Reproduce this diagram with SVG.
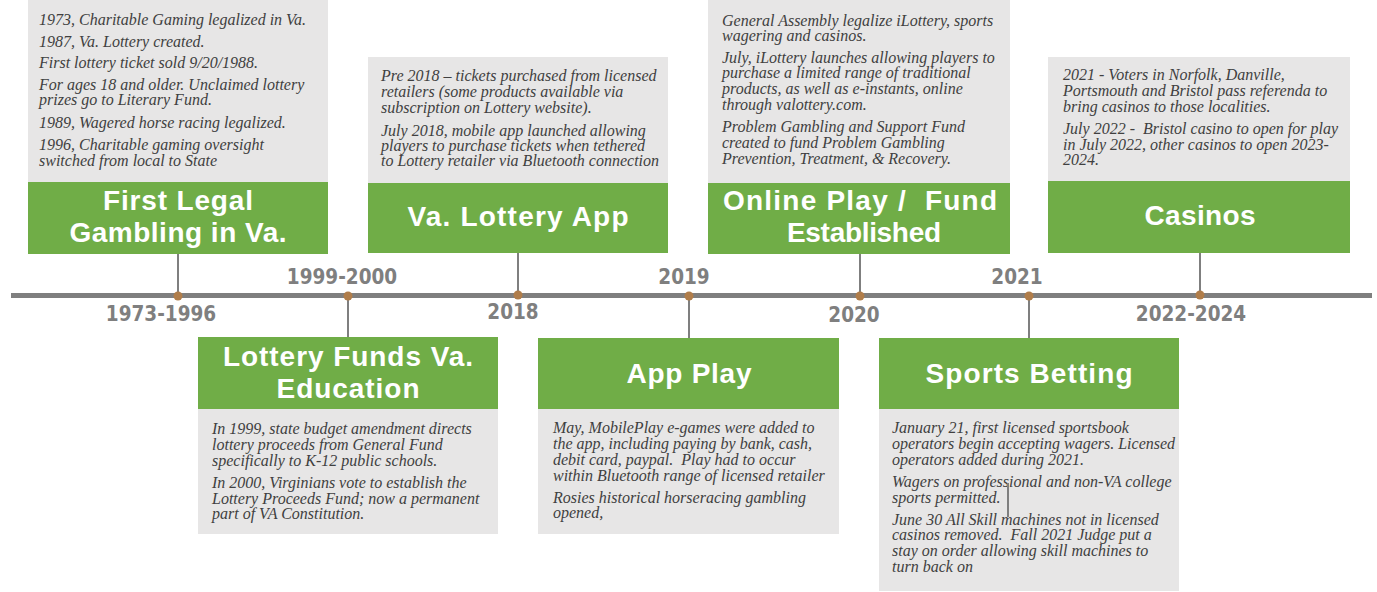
<svg xmlns="http://www.w3.org/2000/svg" width="1377" height="592" viewBox="0 0 1377 592">
<style>
.bg{fill:#e7e6e6}
.gr{fill:#70ad47}
.t{font-family:'Liberation Sans',Arial,sans-serif;font-weight:bold;font-size:28px;fill:#ffffff;text-anchor:middle}
.b{font-family:'Liberation Serif',serif;font-style:italic;font-size:16px;fill:#404040}
.y{font-family:'DejaVu Sans Condensed','DejaVu Sans',sans-serif;font-weight:bold;font-size:20.5px;fill:#7f7f7f;text-anchor:middle}
.c{stroke:#7f7f7f;stroke-width:2;fill:none}
.d{fill:#b07d4a}
</style>
<rect width="1377" height="592" fill="#ffffff"/>
<g id="axis">
<line x1="11" y1="295.5" x2="1372" y2="295.5" stroke="#7f7f7f" stroke-width="5"/>
</g>
<g id="connectors">
<line class="c" x1="178" y1="254" x2="178" y2="295"/>
<line class="c" x1="348" y1="295" x2="348" y2="337"/>
<line class="c" x1="518" y1="253" x2="518" y2="295"/>
<line class="c" x1="689" y1="295" x2="689" y2="338"/>
<line class="c" x1="860" y1="254" x2="860" y2="295"/>
<line class="c" x1="1029" y1="295" x2="1029" y2="338"/>
<line class="c" x1="1200" y1="253" x2="1200" y2="295"/>
<circle class="d" cx="178" cy="296" r="4.5"/>
<circle class="d" cx="348" cy="296" r="4.5"/>
<circle class="d" cx="518" cy="295" r="4.5"/>
<circle class="d" cx="689" cy="296" r="4.5"/>
<circle class="d" cx="860" cy="296" r="4.5"/>
<circle class="d" cx="1029" cy="296" r="4.5"/>
<circle class="d" cx="1200" cy="295" r="4.5"/>
</g>
<g id="labels">
<text class="y" x="161" y="321">1973-1996</text>
<text class="y" x="342" y="284">1999-2000</text>
<text class="y" x="513" y="319">2018</text>
<text class="y" x="684" y="284">2019</text>
<text class="y" x="854" y="322">2020</text>
<text class="y" x="1017" y="284">2021</text>
<text class="y" x="1191" y="321">2022-2024</text>
</g>
<g id="node1">
<rect class="bg" x="28" y="0" width="300" height="182"/>
<rect class="gr" x="28" y="182" width="300" height="72"/>
<text class="b"><tspan x="39" y="25">1973, Charitable Gaming legalized in Va.</tspan><tspan x="39" y="47">1987, Va. Lottery created.</tspan><tspan x="39" y="68">First lottery ticket sold 9/20/1988.</tspan><tspan x="39" y="90">For ages 18 and older. Unclaimed lottery</tspan><tspan x="39" y="105">prizes go to Literary Fund.</tspan><tspan x="39" y="128">1989, Wagered horse racing legalized.</tspan><tspan x="39" y="150">1996, Charitable gaming oversight</tspan><tspan x="39" y="166">switched from local to State</tspan></text>
<text class="t" x="178" y="210" textLength="150" lengthAdjust="spacing">First Legal</text>
<text class="t" x="178" y="242" textLength="217" lengthAdjust="spacing">Gambling in Va.</text>
</g>
<g id="node2">
<rect class="bg" x="198" y="409" width="300" height="125"/>
<rect class="gr" x="198" y="337" width="300" height="72"/>
<text class="t" x="348" y="366" textLength="250" lengthAdjust="spacing">Lottery Funds Va.</text>
<text class="t" x="348" y="398" textLength="143" lengthAdjust="spacing">Education</text>
<text class="b"><tspan x="212" y="434">In 1999, state budget amendment directs</tspan><tspan x="212" y="450">lottery proceeds from General Fund</tspan><tspan x="212" y="466">specifically to K-12 public schools.</tspan><tspan x="212" y="488">In 2000, Virginians vote to establish the</tspan><tspan x="212" y="504">Lottery Proceeds Fund; now a permanent</tspan><tspan x="212" y="519">part of VA Constitution.</tspan></text>
</g>
<g id="node3">
<rect class="bg" x="368" y="57" width="300" height="126"/>
<rect class="gr" x="368" y="183" width="300" height="70"/>
<text class="b"><tspan x="381" y="81">Pre 2018 – tickets purchased from licensed</tspan><tspan x="381" y="97">retailers (some products available via</tspan><tspan x="381" y="113">subscription on Lottery website).</tspan><tspan x="381" y="136">July 2018, mobile app launched allowing</tspan><tspan x="381" y="151">players to purchase tickets when tethered</tspan><tspan x="381" y="166">to Lottery retailer via Bluetooth connection</tspan></text>
<text class="t" x="518" y="226" textLength="221" lengthAdjust="spacing">Va. Lottery App</text>
</g>
<g id="node4">
<rect class="bg" x="538" y="409" width="301" height="125"/>
<rect class="gr" x="538" y="338" width="301" height="71"/>
<text class="t" x="689" y="383" textLength="125" lengthAdjust="spacing">App Play</text>
<text class="b"><tspan x="553" y="433">May, MobilePlay e-games were added to</tspan><tspan x="553" y="449">the app, including paying by bank, cash,</tspan><tspan x="553" y="465" xml:space="preserve">debit card, paypal.  Play had to occur</tspan><tspan x="553" y="481">within Bluetooth range of licensed retailer</tspan><tspan x="553" y="503">Rosies historical horseracing gambling</tspan><tspan x="553" y="518">opened,</tspan></text>
</g>
<g id="node5">
<rect class="bg" x="708" y="0" width="302" height="183"/>
<rect class="gr" x="708" y="183" width="302" height="71"/>
<text class="b"><tspan x="722" y="26">General Assembly legalize iLottery, sports</tspan><tspan x="722" y="41">wagering and casinos.</tspan><tspan x="722" y="63">July, iLottery launches allowing players to</tspan><tspan x="722" y="78">purchase a limited range of traditional</tspan><tspan x="722" y="94">products, as well as e-instants, online</tspan><tspan x="722" y="110">through valottery.com.</tspan><tspan x="722" y="132">Problem Gambling and Support Fund</tspan><tspan x="722" y="148">created to fund Problem Gambling</tspan><tspan x="722" y="164">Prevention, Treatment, &amp; Recovery.</tspan></text>
<text class="t" x="860" y="210" textLength="274" lengthAdjust="spacing" xml:space="preserve">Online Play /  Fund</text>
<text class="t" x="864" y="242" textLength="154" lengthAdjust="spacing">Established</text>
</g>
<g id="node6">
<rect class="bg" x="879" y="409" width="300" height="182"/>
<rect class="gr" x="879" y="338" width="300" height="71"/>
<text class="t" x="1029" y="383" textLength="207" lengthAdjust="spacing">Sports Betting</text>
<text class="b"><tspan x="892" y="433">January 21, first licensed sportsbook</tspan><tspan x="892" y="449">operators begin accepting wagers. Licensed</tspan><tspan x="892" y="465">operators added during 2021.</tspan><tspan x="892" y="487">Wagers on professional and non-VA college</tspan><tspan x="892" y="503">sports permitted.</tspan><tspan x="892" y="525">June 30 All Skill machines not in licensed</tspan><tspan x="892" y="540" xml:space="preserve">casinos removed.  Fall 2021 Judge put a</tspan><tspan x="892" y="556">stay on order allowing skill machines to</tspan><tspan x="892" y="572">turn back on</tspan></text>
<line class="c" x1="1008" y1="483" x2="1008" y2="517"/>
</g>
<g id="node7">
<rect class="bg" x="1048" y="57" width="302" height="124"/>
<rect class="gr" x="1048" y="181" width="302" height="72"/>
<text class="b"><tspan x="1063" y="80">2021 - Voters in Norfolk, Danville,</tspan><tspan x="1063" y="96">Portsmouth and Bristol pass referenda to</tspan><tspan x="1063" y="112">bring casinos to those localities.</tspan><tspan x="1063" y="134" xml:space="preserve">July 2022 -  Bristol casino to open for play</tspan><tspan x="1063" y="150">in July 2022, other casinos to open 2023-</tspan><tspan x="1063" y="165">2024.</tspan></text>
<text class="t" x="1200" y="225" textLength="111" lengthAdjust="spacing">Casinos</text>
</g>
</svg>
